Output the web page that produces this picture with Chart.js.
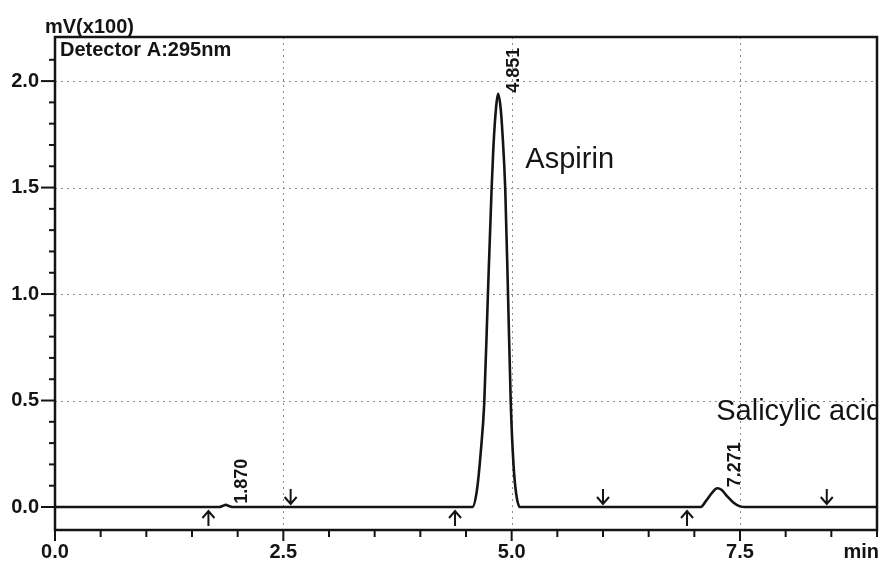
<!DOCTYPE html>
<html>
<head>
<meta charset="utf-8">
<script src="https://cdn.jsdelivr.net/npm/chart.js@4.4.1/dist/chart.umd.min.js"></script>
<style>
  html, body { margin: 0; padding: 0; background: #fff; }
  #wrap { width: 880px; height: 563px; position: relative; }
</style>
</head>
<body>
<div id="wrap"><canvas id="chrom" width="880" height="563"></canvas></div>
<script>
// Chromatogram trace: retention time (min) and detector signal (mV x100)
const traceTimes = [
  0.00, 1.80, 1.84, 1.87, 1.91, 1.95,
  4.57, 4.62, 4.66, 4.70, 4.74, 4.78, 4.80, 4.83, 4.851,
  4.88, 4.90, 4.93, 4.96, 4.99, 5.02, 5.05, 5.09,
  7.07, 7.13, 7.20, 7.25, 7.30, 7.36, 7.43, 7.50, 7.56,
  9.00
];
const traceSignal = [
  0.000, 0.000, 0.006, 0.010, 0.004, 0.000,
  0.000, 0.080, 0.250, 0.490, 1.000, 1.490, 1.690, 1.880, 1.940,
  1.870, 1.750, 1.490, 1.000, 0.490, 0.200, 0.060, 0.000,
  0.000, 0.030, 0.070, 0.088, 0.080, 0.050, 0.020, 0.003, 0.000,
  0.000
];

// Detected peaks
const peakTimes   = [1.870, 4.851, 7.271];
const peakHeights = [0.010, 1.940, 0.088];
const peakLabels  = ['1.870', '4.851', '7.271'];

// Integration start (up) and end (down) markers
const startMarkTimes = [1.68, 4.38, 6.92];
const endMarkTimes   = [2.58, 6.00, 8.45];

// Compound names
const compoundNames = ['Aspirin', 'Salicylic acid'];
const compoundTimes = [5.15, 7.24];
const compoundLevels = [1.59, 0.41];

// Axis tick labels
const xTickValues = [0, 2.5, 5.0, 7.5];
const xTickLabels = ['0.0', '2.5', '5.0', '7.5'];
const yTickValues = [0, 0.5, 1.0, 1.5, 2.0];
const yTickLabels = ['0.0', '0.5', '1.0', '1.5', '2.0'];

const FONT = '"Liberation Sans", Arial, Helvetica, sans-serif';
const INK = '#141414';

function labelFor(values, labels, v) {
  for (let i = 0; i < values.length; i++) {
    if (Math.abs(values[i] - v) < 1e-6) return labels[i];
  }
  return '';
}
function isStep(v, step) {
  const q = v / step;
  return Math.abs(q - Math.round(q)) < 1e-6;
}

const chromDecor = {
  id: 'chromDecor',
  beforeDatasetsDraw(chart) {
    const { ctx, chartArea: a, scales: { x, y } } = chart;
    ctx.save();
    ctx.strokeStyle = '#8a8a8a';
    ctx.lineWidth = 1;
    ctx.setLineDash([2, 4]);
    yTickValues.forEach(v => {
      if (v === 0) return;
      const py = Math.round(y.getPixelForValue(v)) + 0.5;
      ctx.beginPath(); ctx.moveTo(a.left, py); ctx.lineTo(a.right, py); ctx.stroke();
    });
    xTickValues.forEach(v => {
      if (v === 0) return;
      const px = Math.round(x.getPixelForValue(v)) + 0.5;
      ctx.beginPath(); ctx.moveTo(px, a.top); ctx.lineTo(px, a.bottom); ctx.stroke();
    });
    ctx.restore();
  },
  afterDraw(chart) {
    const { ctx, chartArea: a, scales: { x, y } } = chart;
    ctx.save();
    ctx.strokeStyle = INK;
    ctx.fillStyle = INK;

    // frame
    ctx.lineWidth = 2.5;
    ctx.strokeRect(a.left, a.top, a.right - a.left, a.bottom - a.top);

    // y tick marks
    ctx.lineWidth = 2;
    y.ticks.forEach(t => {
      if (!isStep(t.value, 0.1)) return;
      const py = y.getPixelForValue(t.value);
      const len = isStep(t.value, 0.5) ? 14 : 6;
      ctx.beginPath(); ctx.moveTo(a.left - len, py); ctx.lineTo(a.left, py); ctx.stroke();
    });
    // x tick marks
    x.ticks.forEach(t => {
      if (!isStep(t.value, 0.5)) return;
      const px = x.getPixelForValue(t.value);
      const len = isStep(t.value, 2.5) ? 11 : 7;
      ctx.beginPath(); ctx.moveTo(px, a.bottom); ctx.lineTo(px, a.bottom + len); ctx.stroke();
    });

    // integration markers
    const y0 = y.getPixelForValue(0);
    ctx.lineWidth = 2;
    const arrow = (px, tipY, dir) => {
      ctx.beginPath();
      ctx.moveTo(px, tipY); ctx.lineTo(px, tipY + dir * 15);
      ctx.moveTo(px - 6, tipY + dir * 7); ctx.lineTo(px, tipY); ctx.lineTo(px + 6, tipY + dir * 7);
      ctx.stroke();
    };
    startMarkTimes.forEach(t => arrow(x.getPixelForValue(t), y0 + 4, 1));
    endMarkTimes.forEach(t => arrow(x.getPixelForValue(t), y0 - 3, -1));

    // peak retention time labels (rotated)
    ctx.font = 'bold 18px ' + FONT;
    ctx.textAlign = 'left';
    ctx.textBaseline = 'middle';
    peakTimes.forEach((t, i) => {
      const px = x.getPixelForValue(t) + 16;
      const py = y.getPixelForValue(peakHeights[i]) - 1;
      ctx.save();
      ctx.translate(px, py);
      ctx.rotate(-Math.PI / 2);
      ctx.fillText(peakLabels[i], 0, 0);
      ctx.restore();
    });

    // compound names
    ctx.save();
    ctx.beginPath();
    ctx.rect(a.left, a.top, a.right - a.left - 1, a.bottom - a.top);
    ctx.clip();
    ctx.font = '29px ' + FONT;
    ctx.textBaseline = 'alphabetic';
    compoundNames.forEach((name, i) => {
      ctx.fillText(name, x.getPixelForValue(compoundTimes[i]), y.getPixelForValue(compoundLevels[i]));
    });
    ctx.restore();

    // titles
    ctx.font = 'bold 20px ' + FONT;
    ctx.textAlign = 'left';
    ctx.textBaseline = 'alphabetic';
    ctx.fillText('mV(x100)', a.left - 10, a.top - 4);
    ctx.fillText('Detector A:295nm', a.left + 5, a.top + 19);
    ctx.textAlign = 'right';
    ctx.fillText('min', a.right + 2, 558);
    ctx.restore();
  }
};

const points = traceTimes.map((t, i) => ({ x: t, y: traceSignal[i] }));

new Chart(document.getElementById('chrom'), {
  type: 'line',
  data: {
    datasets: [{
      data: points,
      borderColor: INK,
      borderWidth: 2.6,
      pointRadius: 0,
      fill: false,
      cubicInterpolationMode: 'monotone'
    }]
  },
  options: {
    responsive: false,
    animation: false,
    devicePixelRatio: 1,
    layout: { padding: { top: 37, right: 3, left: 0, bottom: 0 } },
    plugins: { legend: { display: false }, tooltip: { enabled: false } },
    scales: {
      x: {
        type: 'linear',
        min: 0,
        max: 9,
        afterFit(s) { s.height = 33; },
        grid: { display: false, drawTicks: true, tickLength: 7 },
        border: { display: false },
        ticks: {
          stepSize: 0.5,
          autoSkip: false,
          maxRotation: 0,
          padding: 3,
          color: INK,
          font: { family: FONT, size: 20, weight: 'bold' },
          callback: v => labelFor(xTickValues, xTickLabels, v)
        }
      },
      y: {
        type: 'linear',
        min: -0.108,
        max: 2.207,
        afterFit(s) { s.width = 55; },
        grid: { display: false, drawTicks: false },
        border: { display: false },
        ticks: {
          stepSize: 0.1,
          autoSkip: false,
          padding: 16,
          color: INK,
          font: { family: FONT, size: 20, weight: 'bold' },
          callback: v => labelFor(yTickValues, yTickLabels, v)
        }
      }
    }
  },
  plugins: [chromDecor]
});
</script>
</body>
</html>
